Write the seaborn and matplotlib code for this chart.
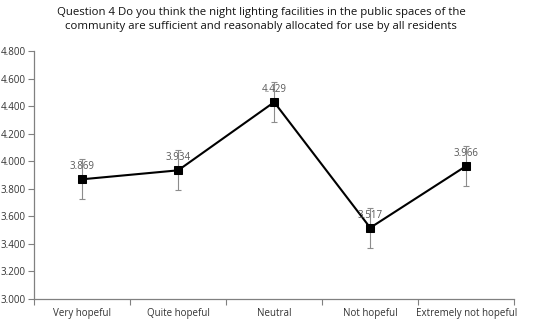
import numpy as np
import pandas as pd
import matplotlib
matplotlib.use('Agg')
import matplotlib.pyplot as plt
import seaborn as sns

categories = ['Very hopeful', 'Quite hopeful', 'Neutral', 'Not hopeful', 'Extremely not hopeful']
means = [3.869, 3.934, 4.429, 3.517, 3.966]
errors = [0.145, 0.145, 0.145, 0.145, 0.145]
labels = ['3.869', '3.934', '4.429', '3.517', '3.966']
yticks = [3.0, 3.2, 3.4, 3.6, 3.8, 4.0, 4.2, 4.4, 4.6, 4.8]

sns.set_style('white')
plt.rcParams['font.family'] = ['Open Sans', 'DejaVu Sans']

df = pd.DataFrame({'category': categories, 'mean': means})

fig = plt.figure(figsize=(5.5, 3.25), dpi=100)
ax = fig.add_axes([0.062, 0.08, 0.873, 0.763])

pos = np.arange(len(categories))
ax.errorbar(pos, means, yerr=errors, fmt='none', ecolor='#8c8c8c',
            elinewidth=0.8, capsize=2.5, capthick=0.8, zorder=1)
sns.lineplot(data=df, x=pos, y='mean', ax=ax, color='black', linewidth=1.5,
             marker='s', markersize=5.5, markeredgecolor='black', zorder=3)

for x, y, t in zip(pos, means, labels):
    ax.text(x, y + 0.09, t, ha='center', va='center', fontsize=7, color='#595959')

ax.set_xlim(-0.5, 4.5)
ax.set_ylim(3.0, 4.8)
ax.set_yticks(yticks)
ax.set_yticklabels([f'{v:.3f}' for v in yticks], fontsize=7, color='#333333')
ax.set_xticks(pos)
ax.set_xticklabels(categories, fontsize=7, color='#333333', va='baseline')
ax.set_xticks(np.arange(-0.5, 5.0, 1.0), minor=True)
ax.tick_params(axis='x', which='both', bottom=True)
ax.tick_params(axis='y', left=True)
ax.tick_params(axis='x', which='major', length=0, pad=12.5)
ax.tick_params(axis='x', which='minor', length=4, width=0.8, color='#808080', direction='out')
ax.tick_params(axis='y', length=4, width=0.8, color='#808080', direction='out', pad=2)
ax.set_xlabel('')
ax.set_ylabel('')
for s in ['top', 'right']:
    ax.spines[s].set_visible(False)
for s in ['left', 'bottom']:
    ax.spines[s].set_color('#808080')
    ax.spines[s].set_linewidth(0.9)

fig.text(0.475, 0.94, 'Question 4 Do you think the night lighting facilities in the public spaces of the\n'
         'community are sufficient and reasonably allocated for use by all residents',
         ha='center', va='center', fontsize=8.2, color='#111111', linespacing=1.45)

fig.savefig('out.png', dpi=100)
